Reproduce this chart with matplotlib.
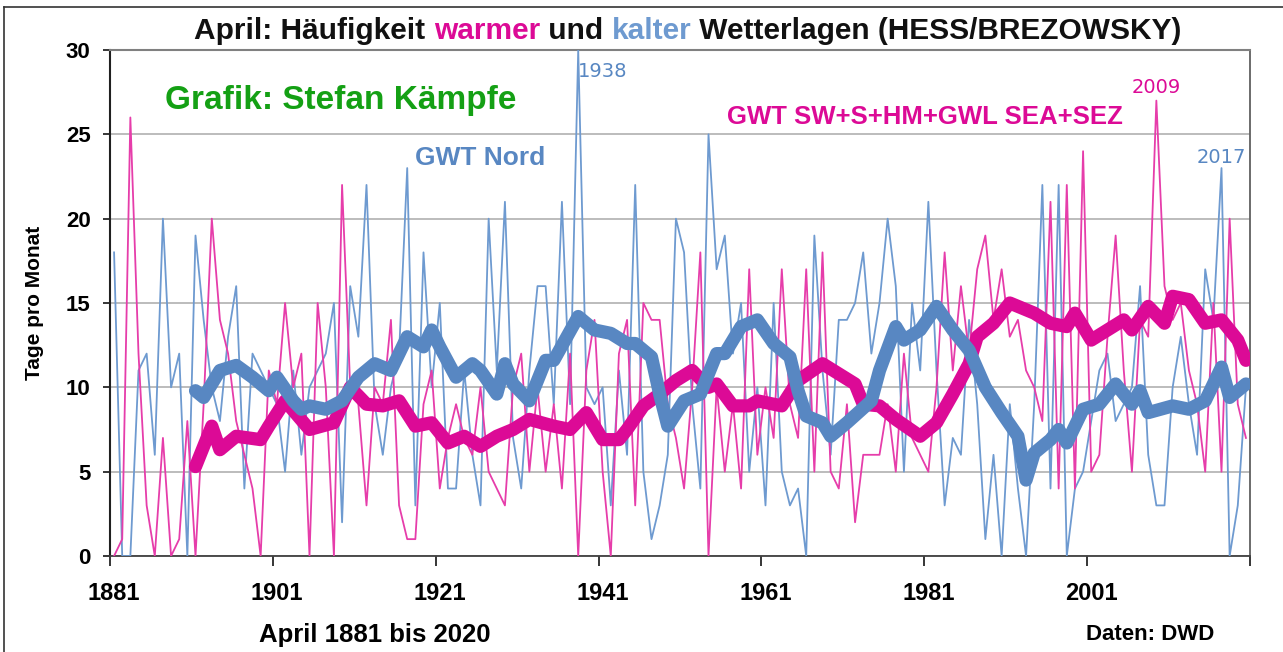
import matplotlib
matplotlib.use("Agg")
import matplotlib.pyplot as plt
from matplotlib.lines import Line2D
import numpy as np


# April days per weather type, 1881-2020
years = np.arange(1881, 2021)

warm_days = [
    0, 1, 26, 12, 3, 0, 7, 0, 1, 8,          # 1881-1890
    0, 9, 20, 14, 12, 8, 6, 4, 0, 11,        # 1891-1900
    9, 15, 10, 12, 0, 15, 10, 0, 22, 10,     # 1901-1910
    9, 3, 10, 9, 14, 3, 1, 1, 9, 11,         # 1911-1920
    4, 7, 9, 7, 6, 10, 5, 4, 3, 10,          # 1921-1930
    12, 5, 10, 5, 9, 4, 12, 0, 11, 14,       # 1931-1940
    5, 0, 12, 14, 3, 15, 14, 14, 9, 7,       # 1941-1950
    4, 10, 18, 0, 10, 5, 9, 4, 17, 6,        # 1951-1960
    10, 7, 17, 9, 7, 17, 5, 18, 5, 4,        # 1961-1970
    9, 2, 6, 6, 6, 9, 5, 12, 7, 6,           # 1971-1980
    5, 10, 18, 11, 16, 12, 17, 19, 14, 17,   # 1981-1990
    13, 14, 11, 10, 8, 21, 4, 22, 4, 24,     # 1991-2000
    5, 6, 13, 19, 11, 5, 14, 13, 27, 16,     # 2001-2010
    14, 15, 11, 9, 5, 15, 5, 20, 9, 7,       # 2011-2020
]

cold_days = [
    18, 0, 0, 11, 12, 6, 20, 10, 12, 0,      # 1881-1890
    19, 14, 10, 8, 13, 16, 4, 12, 11, 10,    # 1891-1900
    9, 5, 11, 6, 10, 11, 12, 15, 2, 16,      # 1901-1910
    13, 22, 9, 6, 10, 12, 23, 3, 18, 10,     # 1911-1920
    15, 4, 4, 11, 6, 3, 20, 11, 21, 7,       # 1921-1930
    4, 11, 16, 16, 9, 21, 9, 30, 10, 9,      # 1931-1940
    10, 3, 11, 6, 22, 5, 1, 3, 6, 20,        # 1941-1950
    18, 9, 4, 25, 17, 19, 12, 15, 5, 10,     # 1951-1960
    3, 15, 5, 3, 4, 0, 19, 11, 6, 14,        # 1961-1970
    14, 15, 18, 12, 15, 20, 16, 5, 15, 11,   # 1971-1980
    21, 11, 3, 7, 6, 14, 9, 1, 6, 0,         # 1981-1990
    9, 4, 0, 9, 22, 4, 22, 0, 4, 5,          # 1991-2000
    8, 11, 12, 8, 9, 10, 16, 6, 3, 3,        # 2001-2010
    10, 13, 9, 6, 17, 14, 23, 0, 3, 10,      # 2011-2020
]

# 11-year trend lines
warm_trend_years = [1891, 1893, 1894, 1896, 1899, 1900, 1902, 1905, 1908, 1910,
                    1912, 1914, 1916, 1918, 1920, 1922, 1924, 1926, 1928, 1930,
                    1932, 1935, 1937, 1939, 1941, 1943, 1944, 1946, 1948, 1950,
                    1952, 1954, 1955, 1957, 1959, 1960, 1963, 1965, 1968, 1970,
                    1972, 1973, 1975, 1977, 1980, 1982, 1984, 1986, 1987, 1989,
                    1991, 1994, 1996, 1998, 1999, 2001, 2003, 2005, 2006, 2008,
                    2010, 2011, 2013, 2015, 2017, 2019, 2020]
warm_trend = [5.3, 7.7, 6.3, 7.1, 6.9, 7.7, 9.2, 7.5, 7.9, 10.0,
              9.0, 8.9, 9.2, 7.7, 7.9, 6.7, 7.1, 6.5, 7.1, 7.5,
              8.1, 7.7, 7.5, 8.5, 6.9, 6.9, 7.5, 8.9, 9.6, 10.4,
              11.0, 10.0, 10.2, 8.9, 8.9, 9.2, 8.9, 10.4, 11.4, 10.8,
              10.2, 9.0, 8.9, 8.1, 7.1, 7.9, 9.6, 11.4, 13.0, 13.8,
              15.0, 14.4, 13.8, 13.6, 14.4, 12.8, 13.4, 14.0, 13.4, 14.8,
              13.8, 15.4, 15.2, 13.8, 14.0, 12.8, 11.6]

cold_trend_years = [1891, 1892, 1894, 1896, 1898, 1900, 1901, 1903, 1904, 1905,
                    1907, 1909, 1911, 1913, 1915, 1917, 1919, 1920, 1921, 1923,
                    1925, 1926, 1928, 1929, 1930, 1932, 1934, 1935, 1938, 1940,
                    1942, 1944, 1945, 1947, 1948, 1949, 1951, 1953, 1955, 1956,
                    1958, 1960, 1962, 1964, 1965, 1966, 1968, 1969, 1971, 1974,
                    1975, 1977, 1978, 1980, 1982, 1984, 1986, 1988, 1990, 1992,
                    1993, 1994, 1996, 1997, 1998, 2000, 2002, 2004, 2006, 2007,
                    2008, 2011, 2013, 2015, 2017, 2018, 2020]
cold_trend = [9.8, 9.4, 11.0, 11.3, 10.6, 9.8, 10.6, 9.2, 8.7, 8.9,
              8.7, 9.2, 10.6, 11.4, 11.0, 13.0, 12.4, 13.4, 12.4, 10.6,
              11.4, 11.0, 9.6, 11.4, 10.2, 9.2, 11.6, 11.6, 14.2, 13.4,
              13.2, 12.6, 12.6, 11.8, 9.6, 7.7, 9.2, 9.6, 12.0, 12.0,
              13.6, 14.0, 12.6, 11.8, 9.8, 8.3, 7.9, 7.1, 7.9, 9.2,
              11.0, 13.6, 12.8, 13.4, 14.8, 13.4, 12.2, 10.0, 8.5, 7.1,
              4.5, 6.1, 6.9, 7.5, 6.7, 8.7, 9.0, 10.2, 9.0, 9.8,
              8.5, 8.9, 8.7, 9.2, 11.2, 9.4, 10.2]

tick_years = [1881, 1901, 1921, 1941, 1961, 1981, 2001]

PINK = "#DC0A96"
PINK_THIN = "#E63DAA"
BLUE = "#5887C2"
BLUE_THIN = "#6E9AD0"
GREEN = "#14A014"

plt.rcParams["font.family"] = ["Liberation Sans", "DejaVu Sans"]

W, H = 1283, 652
fig = plt.figure(figsize=(W / 100, H / 100), dpi=100)
ax = fig.add_axes([110 / W, 1 - 556 / H, (1250 - 110) / W, (556 - 50) / H])

ax.plot(years, cold_days, color=BLUE_THIN, lw=1.3, zorder=3)
ax.plot(years, warm_days, color=PINK_THIN, lw=1.3, zorder=3)
ax.plot(warm_trend_years, warm_trend, color=PINK, lw=9.5,
        solid_capstyle="round", solid_joinstyle="round", zorder=4)
ax.plot(cold_trend_years, cold_trend, color=BLUE, lw=9.5,
        solid_capstyle="round", solid_joinstyle="round", zorder=5)

ax.set_xlim(1880.5, 2020.5)
ax.set_ylim(0, 30)
ax.set_yticks(range(0, 31, 5))
ax.yaxis.grid(True, color="#AAAAAA", lw=1.1)
ax.set_axisbelow(True)

ax.set_xticks(tick_years)
ax.set_xticklabels([str(y) for y in tick_years])
ax.set_xticks(np.arange(1880.5, 2021, 20), minor=True)
ax.tick_params(axis="x", which="major", length=0, pad=19, labelsize=17)
ax.tick_params(axis="x", which="minor", length=7, width=1.1, direction="out")
ax.tick_params(axis="y", length=5, width=1.1, direction="out", labelsize=16,
               pad=9)
for lab in ax.get_xticklabels() + ax.get_yticklabels():
    lab.set_fontweight("bold")

ax.spines["left"].set_color("#202020")
ax.spines["left"].set_linewidth(1.5)
ax.spines["bottom"].set_color("#404040")
ax.spines["bottom"].set_linewidth(1.3)
ax.spines["top"].set_color("#808080")
ax.spines["top"].set_linewidth(1.5)
ax.spines["right"].set_color("#606060")
ax.spines["right"].set_linewidth(1.3)

ax.set_ylabel("Tage pro Monat", fontsize=15, fontweight="bold", labelpad=16)

# annotations in data coords
ax.text(1887.3, 27.0, "Grafik: Stefan Kämpfe", color=GREEN, fontsize=24,
        fontweight="bold", va="center")
ax.text(1918.0, 23.6, "GWT Nord", color=BLUE, fontsize=19, fontweight="bold",
        va="center")
ax.text(1956.3, 26.0, "GWT SW+S+HM+GWL SEA+SEZ", color=PINK, fontsize=18.5,
        fontweight="bold", va="center")
ax.text(1938.0, 28.7, "1938", color=BLUE, fontsize=14, family="DejaVu Sans",
        va="center")
ax.text(2009.0, 27.8, "2009", color=PINK, fontsize=14, family="DejaVu Sans",
        ha="center", va="center")
ax.text(2017.0, 23.6, "2017", color=BLUE, fontsize=14, family="DejaVu Sans",
        ha="center", va="center")


def pixel_text(x, y, s, **kw):
    return fig.text(x / W, 1 - y / H, s, **kw)


# multi-coloured title
pieces = [("April: Häufigkeit ", "#111111"), ("warmer", PINK),
          (" und ", "#111111"), ("kalter", BLUE_THIN),
          (" Wetterlagen (HESS/BREZOWSKY)", "#111111")]
renderer = fig.canvas.get_renderer()
parts = [pixel_text(0, 31, s, color=c, fontsize=21.5, fontweight="bold",
                    va="center") for s, c in pieces]
widths = [p.get_window_extent(renderer).width for p in parts]
x = 688 - sum(widths) / 2
for p, w in zip(parts, widths):
    p.set_x(x / W)
    x += w

pixel_text(375, 635, "April 1881 bis 2020", fontsize=18.5, fontweight="bold",
           ha="center", va="center")
pixel_text(1150, 635, "Daten: DWD", fontsize=16, fontweight="bold",
           ha="center", va="center")

# outer frame of the graphic
fig.add_artist(Line2D([4 / W, 4 / W], [0, 1 - 7 / H], color="#333333", lw=1.2))
fig.add_artist(Line2D([4 / W, 1], [1 - 7 / H, 1 - 7 / H], color="#333333", lw=1.2))

fig.savefig("out.png", dpi=100)
